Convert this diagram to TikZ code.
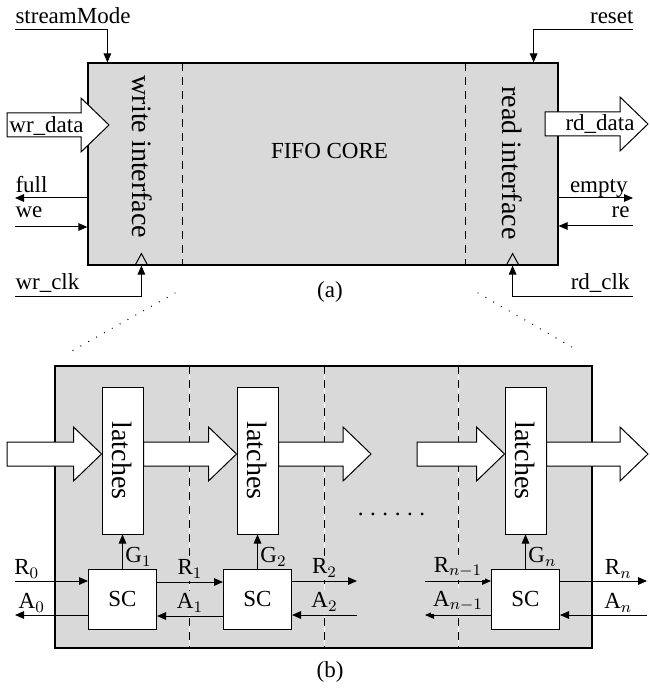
\documentclass[tikz,border=0pt]{standalone}
\usepackage{fontspec}
\setmainfont{Liberation Serif}
\usepackage{amsmath}
\usepackage{tikz}
\usetikzlibrary{arrows.meta, positioning, calc}

% wide data arrow from #1 to the tip #2
\newcommand{\busarrow}[2]{%
  \draw[bus] let \p1=#1, \p2=#2 in
    (\x1,\y1+6pt) -- (\x2-14pt,\y1+6pt) -- (\x2-14pt,\y1+13.5pt)
    -- (\x2,\y1) -- (\x2-14pt,\y1-13.5pt) -- (\x2-14pt,\y1-6pt)
    -- (\x1,\y1-6pt) -- cycle;}

\begin{document}
\begin{tikzpicture}[
    x=0.5pt, y=-0.5pt,
    font=\fontsize{11.5}{13.5}\selectfont,
    line width=0.5pt,
    node distance=46.5pt,
    >={Triangle[length=4.5pt,width=3.8pt]},
    block/.style={draw, fill=black!15, line width=0.6pt, inner sep=0},
    latch/.style={draw, fill=white, minimum width=20.5pt, minimum height=73.5pt, inner sep=0},
    ctrl/.style={draw, fill=white, minimum width=34pt, minimum height=30pt, inner sep=0},
    bus/.style={draw, fill=white},
    part/.style={dash pattern=on 4pt off 3pt},
    cut/.style={dash pattern=on 4pt off 3pt, preaction={draw=white, solid}},
    zoomline/.style={line cap=round, dash pattern=on 0pt off 4.5pt, line width=0.7pt},
    big/.style={font=\fontsize{14}{16}\selectfont},
    lbl/.style={inner sep=1.2pt, fill=black!15},
    lblout/.style={inner sep=1.2pt}
]
\useasboundingbox (0,0) rectangle (649,688);

% (a) FIFO block
\node[block, minimum width=235pt, minimum height=101pt] (core) at (323,164) {};
\draw[part] (182,63) -- (182,265);
\draw[part] (465,63) -- (465,265);
\node (fifo) at (329.5,151) {FIFO CORE};
\node[big, rotate=-90] (wif) at (142,157) {write interface};
\node[big, rotate=-90] (rif) at (512,163) {read interface};

% data ports
\coordinate (wrin) at (7,125);
\coordinate (wrtip) at (109,125);
\coordinate (rdin) at (545,124);
\coordinate (rdtip) at (648,124);
\busarrow{(wrin)}{(wrtip)}
\busarrow{(rdin)}{(rdtip)}
\node (wrdata) at (46.5,126) {wr\_data};
\node (rddata) at (600,124) {rd\_data};

% control ports
\coordinate (smfrom) at (15,30);
\coordinate (rsfrom) at (633,30);
\coordinate (fullto) at (15,198);
\coordinate (wefrom) at (15,227);
\coordinate (emptyto) at (633,198);
\coordinate (refrom) at (633,226);
\coordinate (wckfrom) at (15,297);
\coordinate (rckfrom) at (633,297);
\coordinate (wck) at ($(core.south west)+(54,0)$);
\coordinate (rck) at ($(core.south east)+(-46,0)$);

\node[inner sep=0, anchor=base west] (smode) at (15,24) {streamMode};
\node[inner sep=0, anchor=base east] (reset) at (634,24) {reset};
\node[inner sep=0, anchor=base west] (full) at (15,193) {full};
\node[inner sep=0, anchor=base west] (we) at (15,218) {we};
\node[inner sep=0, anchor=base east] (empty) at (628,193) {empty};
\node[inner sep=0, anchor=base east] (re) at (630,218) {re};
\node[inner sep=0, anchor=base west] (wrclk) at (15,290) {wr\_clk};
\node[inner sep=0, anchor=base east] (rdclk) at (630,290) {rd\_clk};

\draw[->] (smfrom) -| ($(core.north west)+(20,0)$);
\draw[->] (rsfrom) -| ($(core.north east)+(-25,0)$);
\draw[->] (core.west |- fullto) -- (fullto);
\draw[->] (wefrom) -- (core.west |- wefrom);
\draw[->] (core.east |- emptyto) -- (emptyto);
\draw[->] (refrom) -- (core.east |- refrom);
\draw[->] (wckfrom) -| (wck);
\draw[->] (rckfrom) -| (rck);

% clock marks
\draw ($(wck)+(-6.5,0)$) -- ($(wck)+(0,-12)$) -- ($(wck)+(6.5,0)$);
\draw ($(rck)+(-6.5,0)$) -- ($(rck)+(0,-12)$) -- ($(rck)+(6.5,0)$);

\node (capa) at (330,292) {(a)};

% zoom lines
\draw[zoomline] (175,293) -- (70,352);
\draw[zoomline] (478,293) -- (577,350);

% (b) pipeline
\node[block, minimum width=268.5pt, minimum height=141pt] (stage) at (323.5,507) {};
\draw[cut] (189,366) -- (189,648);
\draw[cut] (324,366) -- (324,648);
\draw[cut] (458,366) -- (458,648);

\node[latch] (lat1) at (122.5,460.5) {};
\node[latch, right=of lat1] (lat2) {};
\node[latch] (latn) at (525.5,460.5) {};
\foreach \l in {lat1, lat2, latn}
  \node[big, rotate=-90] at (\l) {latches};

\node[ctrl, below=17pt of lat1] (sc1) {SC};
\node[ctrl, below=17pt of lat2] (sc2) {SC};
\node[ctrl, below=17pt of latn] (scn) {SC};

% data path
\coordinate (bin) at (7,454);
\coordinate (midtip) at (371,454);
\coordinate (midin) at (417,454);
\coordinate (bout) at (648,454);
\busarrow{(bin)}{(lat1.west |- bin)}
\busarrow{(lat1.east |- bin)}{(lat2.west |- bin)}
\busarrow{(lat2.east |- bin)}{(midtip)}
\busarrow{(midin)}{(latn.west |- bin)}
\busarrow{(latn.east |- bin)}{(bout)}

\node[inner sep=0, anchor=base] (gap) at (391.5,515)
  {.\hspace{3.3pt}.\hspace{3.3pt}.\hspace{3.3pt}.\hspace{3.3pt}.\hspace{3.3pt}.};

% handshake
\coordinate (r0) at (15,581);
\coordinate (a0) at (15,615);
\coordinate (r2) at (357,581);
\coordinate (a2) at (357,615);
\coordinate (rn1) at (425,581);
\coordinate (an1) at (425,615);
\coordinate (rn) at (647,581);
\coordinate (an) at (647,615);

\draw[->] (sc1) -- (lat1) node[lbl, right, pos=0.35] {G$_1$};
\draw[->] (sc2) -- (lat2) node[lbl, right, pos=0.35] {G$_2$};
\draw[->] (scn) -- (latn) node[lbl, right, pos=0.35] {G$_n$};

\draw[->] (r0) -- (r0 -| sc1.west) node[lblout, above, pos=0.16] {R$_0$};
\draw[->] (a0 -| sc1.west) -- (a0) node[lblout, above, pos=0.77] {A$_0$};
\draw[->] ([yshift=8.5pt]sc1.east) -- ([yshift=8.5pt]sc2.west) node[lbl, above=0.4pt, midway] {R$_1$};
\draw[->] ([yshift=-8.5pt]sc2.west) -- ([yshift=-8.5pt]sc1.east) node[lbl, above=0.4pt, midway] {A$_1$};
\draw[->] (r2 -| sc2.east) -- (r2) node[lbl, above=0.4pt, midway] {R$_2$};
\draw[->] (a2) -- (a2 -| sc2.east) node[lbl, above=0.4pt, midway] {A$_2$};
\draw[->] (rn1) -- (rn1 -| scn.west) node[lbl, above=0.4pt, midway] {R$_{n-1}$};
\draw[->] (an1 -| scn.west) -- (an1) node[lbl, above=0.4pt, midway] {A$_{n-1}$};
\draw[->] (rn -| scn.east) -- (rn) node[lblout, above, pos=0.67] {R$_n$};
\draw[->] (an) -- (an -| scn.east) node[lblout, above, pos=0.33] {A$_n$};

\node (capb) at (330,672) {(b)};

\end{tikzpicture}
\end{document}
